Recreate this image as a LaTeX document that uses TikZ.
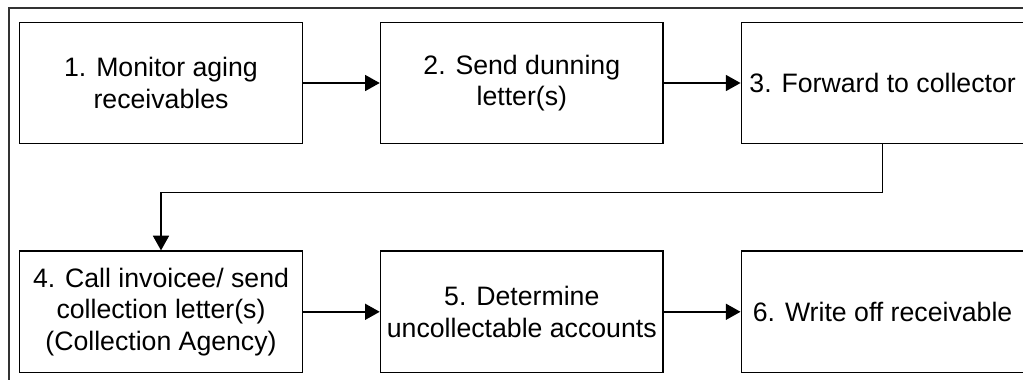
\documentclass[tikz,border=0pt]{standalone}
\usepackage{fontspec}
\setmainfont{Liberation Sans}
\usepackage{tikz}
\usetikzlibrary{arrows.meta, positioning}

\begin{document}
\begin{tikzpicture}[
    procbox/.style={rectangle, draw=black, line width=1.1pt,
                    minimum width=212pt, minimum height=91pt,
                    inner sep=2pt, align=center,
                    font=\fontsize{20}{23.5}\selectfont},
    arrow/.style={-{Triangle[length=11pt, width=12pt]}, line width=1.1pt, black},
    frame/.style={draw=black!80, line width=0.9pt},
    node distance=79.5pt and 57.5pt
]
\useasboundingbox (0,0) rectangle (767.25pt,-284.25pt);

% outer frame, runs off the right and bottom edges
\draw[frame] (6.75pt,-300pt) -- (6.75pt,-6pt) -- (790pt,-6pt);

\node[procbox] (monitor)   at (120.75pt,-62.25pt) {1. Monitor aging\\receivables};
\node[procbox] (dunning)   [right=of monitor]  {2. Send dunning\\letter(s)};
\node[procbox] (forward)   [right=of dunning]  {3. Forward to collector};
\node[procbox] (call)      [below=of monitor]  {4. Call invoicee/ send\\collection letter(s)\\(Collection Agency)};
\node[procbox] (determine) [right=of call]     {5. Determine\\uncollectable accounts};
\node[procbox] (writeoff)  [right=of determine] {6. Write off receivable};

\foreach \a/\b in {monitor/dunning, dunning/forward,
                   call/determine, determine/writeoff}
    \draw[arrow] (\a) -- (\b);

\draw[arrow] (forward.south) -- ++(0,-36pt) -| (call.north);
\end{tikzpicture}
\end{document}
